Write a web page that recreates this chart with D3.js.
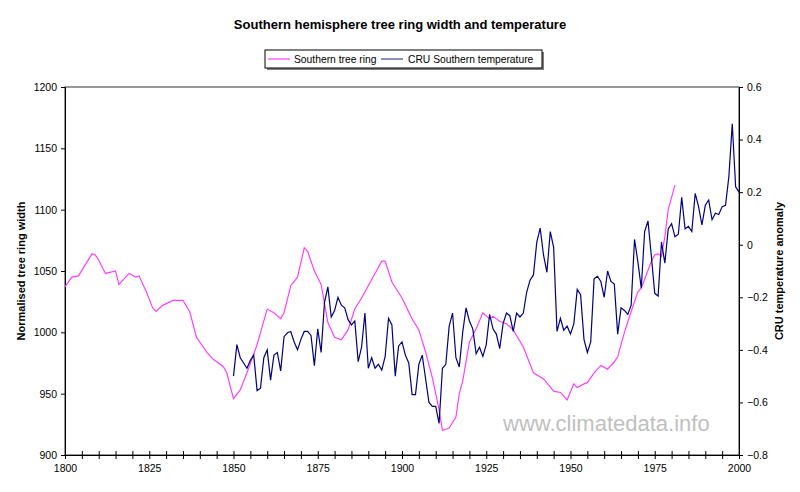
<!DOCTYPE html>
<html>
<head>
<meta charset="utf-8">
<script src="https://cdn.jsdelivr.net/npm/d3@7"></script>
<style>
  html, body { margin: 0; padding: 0; background: #fff; }
  text { font-family: "Liberation Sans", Arial, sans-serif; }
</style>
</head>
<body>
<svg id="chart" width="800" height="492"></svg>
<script>
// ---- data ----
const treeYears = [1800,1802,1804,1806,1808,1809,1810,1812,1815,1816,1819,1821,1822,1824,1826,1827,1829,1832,1835,1837,1839,1842,1844,1847,1848,1850,1852,1854,1857,1860,1862,1864,1865,1867,1869,1871,1872,1874,1876,1878,1880,1882,1884,1886,1888,1890,1892,1894,1895,1897,1900,1903,1905,1907,1909,1910,1911,1912,1914,1916,1917,1918,1920,1922,1924,1926,1927,1929,1931,1933,1936,1939,1942,1945,1947,1949,1951,1952,1954,1955,1957,1959,1961,1963,1964,1966,1968,1970,1971,1974,1975,1976,1977,1978,1979,1980,1981];
const treeValues = [1037,1045,1046,1055,1064,1063,1059,1048,1050,1039,1048,1045,1046,1034,1020,1017,1022,1026,1026,1017,996,984,978,972,967,946,953,967,990,1019,1016,1011,1016,1038,1045,1069,1066,1050,1039,1008,996,994,1002,1019,1028,1038,1048,1058,1058,1041,1028,1011,1002,984,963,950,937,920,922,931,950,960,992,1003,1016,1011,1013,1009,1007,1002,988,967,962,952,951,945,958,955,958,959,967,973,970,976,980,1000,1017,1033,1036,1058,1063,1064,1062,1078,1100,1110,1120];

const tempStart = 1850;
const tempValues = [
  -0.50,-0.38,-0.43,-0.45,-0.47,-0.44,-0.42,-0.555,-0.546,-0.43,
  -0.40,-0.515,-0.42,-0.41,-0.48,-0.35,-0.335,-0.33,-0.37,-0.40,
  -0.36,-0.33,-0.33,-0.345,-0.46,-0.32,-0.41,-0.22,-0.16,-0.275,
  -0.25,-0.20,-0.23,-0.24,-0.285,-0.305,-0.29,-0.445,-0.39,-0.26,
  -0.47,-0.43,-0.47,-0.455,-0.477,-0.425,-0.28,-0.305,-0.50,-0.385,
  -0.37,-0.42,-0.45,-0.57,-0.57,-0.455,-0.42,-0.51,-0.60,-0.615,
  -0.615,-0.68,-0.47,-0.455,-0.31,-0.26,-0.43,-0.465,-0.335,-0.24,
  -0.29,-0.32,-0.415,-0.39,-0.425,-0.38,-0.265,-0.32,-0.34,-0.395,
  -0.30,-0.26,-0.27,-0.33,-0.26,-0.275,-0.26,-0.18,-0.135,-0.115,
  0.01,0.063,-0.04,-0.105,0.05,-0.01,-0.33,-0.28,-0.325,-0.31,
  -0.34,-0.30,-0.17,-0.19,-0.36,-0.41,-0.37,-0.13,-0.12,-0.14,
  -0.20,-0.10,-0.14,-0.15,-0.34,-0.24,-0.25,-0.265,-0.23,0.02,
  -0.065,-0.165,0.05,0.09,-0.045,-0.185,-0.195,0.01,-0.07,0.06,
  0.08,0.03,0.04,0.18,0.06,0.07,0.05,0.195,0.145,0.075,
  0.15,0.17,0.095,0.12,0.115,0.145,0.15,0.26,0.46,0.22,
  0.20
];
const xTickLabels = [1800,1825,1850,1875,1900,1925,1950,1975,2000];
const leftTicks = [900,950,1000,1050,1100,1150,1200];
const rightTicks = [-0.8,-0.6,-0.4,-0.2,0,0.2,0.4,0.6];
const seriesNames = ["Southern tree ring","CRU Southern temperature"];
const colors = ["#ff40ff","#000080"];

// ---- layout ----
const svg = d3.select("#chart");
const L = 65, R = 739, T = 87, B = 455;
const tickFont = "10.5px";

const x = d3.scaleLinear().domain([1800,2000]).range([L,R]);
const yL = d3.scaleLinear().domain([900,1200]).range([B,T]);
const yR = d3.scaleLinear().domain([-0.8,0.6]).range([B,T]);

// title
svg.append("text").attr("x",400).attr("y",29).attr("text-anchor","middle")
  .attr("font-size","13px").attr("font-weight","bold").attr("fill","#000")
  .text("Southern hemisphere tree ring width and temperature");

// legend
const lg = svg.append("g");
lg.append("rect").attr("x",267).attr("y",52).attr("width",277).attr("height",18).attr("fill","#808080");
lg.append("rect").attr("x",265).attr("y",50).attr("width",277).attr("height",18).attr("fill","#fff").attr("stroke","#000").attr("stroke-width",1);
const legItems = [{x:268,tx:294},{x:381,tx:408}];
legItems.forEach((it,i)=>{
  lg.append("line").attr("x1",it.x).attr("x2",it.x+22).attr("y1",59).attr("y2",59)
    .attr("stroke",colors[i]).attr("stroke-width",1.5).attr("opacity",i===1?0.6:0.8);
  lg.append("text").attr("x",it.tx).attr("y",63).attr("font-size","10.3px").attr("fill","#000").text(seriesNames[i]);
});

// plot border
svg.append("rect").attr("x",L).attr("y",T).attr("width",R-L).attr("height",B-T)
  .attr("fill","none").attr("stroke","#333").attr("stroke-width",1);

// watermark
svg.append("text").attr("x",503).attr("y",431).attr("font-size","22px").attr("fill","#c0c0c0")
  .text("www.climatedata.info");

// axes
const xAxis = d3.axisBottom(x).tickValues(d3.range(1800,2001,5)).tickSize(4).tickFormat(d=> xTickLabels.includes(d)? String(d) : "");
const gx = svg.append("g").attr("transform",`translate(0,${B})`).call(xAxis);
gx.select(".domain").attr("stroke","#000");
gx.selectAll(".tick line").attr("y1",-4).attr("y2",4).attr("stroke","#000");
gx.selectAll(".tick text").attr("y",10).attr("font-size",tickFont).attr("font-family","Liberation Sans, Arial, sans-serif").attr("fill","#000");

const gl = svg.append("g").attr("transform",`translate(${L},0)`)
  .call(d3.axisLeft(yL).tickValues(leftTicks).tickSize(4).tickPadding(4).tickFormat(d=>String(d)));
gl.select(".domain").attr("stroke","#000");
gl.selectAll(".tick line").attr("stroke","#000");
gl.selectAll(".tick text").attr("font-size",tickFont).attr("font-family","Liberation Sans, Arial, sans-serif").attr("fill","#000");

const gr = svg.append("g").attr("transform",`translate(${R},0)`)
  .call(d3.axisRight(yR).tickValues(rightTicks).tickSize(4).tickPadding(4).tickFormat(d=> d===0 ? "0" : d3.format(".1f")(d)));
gr.select(".domain").attr("stroke","#000");
gr.selectAll(".tick line").attr("stroke","#000");
gr.selectAll(".tick text").attr("font-size",tickFont).attr("font-family","Liberation Sans, Arial, sans-serif").attr("fill","#000");

// axis titles
svg.append("text").attr("transform",`translate(25,${(T+B)/2}) rotate(-90)`).attr("text-anchor","middle")
  .attr("font-size","11px").attr("font-weight","bold").attr("fill","#000").text("Normalised tree ring width");
svg.append("text").attr("transform",`translate(783,${(T+B)/2}) rotate(-90)`).attr("text-anchor","middle")
  .attr("font-size","11px").attr("font-weight","bold").attr("fill","#000").text("CRU temperature anomaly");

// lines
const treeData = treeYears.map((yr,i)=>({yr, v:treeValues[i]}));
const tempData = tempValues.map((v,i)=>({yr: tempStart+i, v}));

svg.append("path").datum(treeData)
  .attr("fill","none").attr("stroke",colors[0]).attr("stroke-width",1.2)
  .attr("d", d3.line().x(d=>x(d.yr)).y(d=>yL(d.v)));
svg.append("path").datum(tempData)
  .attr("fill","none").attr("stroke",colors[1]).attr("stroke-width",1.2)
  .attr("d", d3.line().x(d=>x(d.yr)).y(d=>yR(d.v)));
</script>
</body>
</html>
